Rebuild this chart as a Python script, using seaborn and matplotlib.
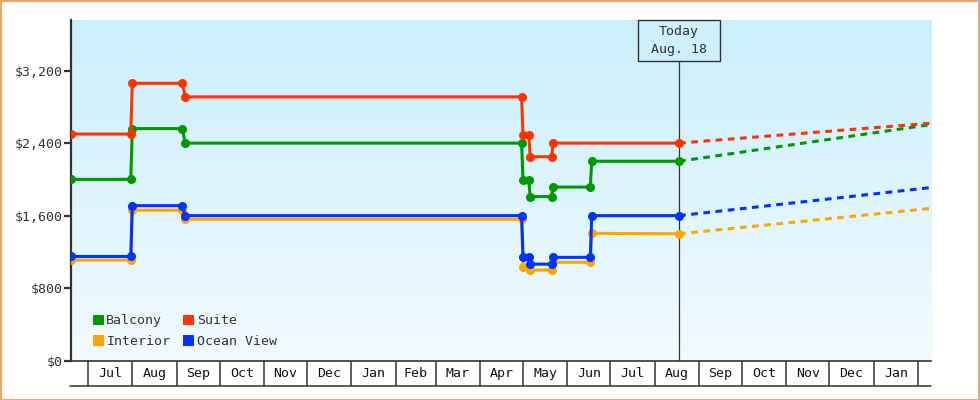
import numpy as np
import pandas as pd
import matplotlib
matplotlib.use("Agg")
import matplotlib.pyplot as plt
import matplotlib.dates as mdates
import matplotlib.transforms as mtransforms
from matplotlib.patches import Patch, Rectangle
from matplotlib.lines import Line2D
import seaborn as sns

# ---------------- data ----------------
suite_dates = ["2022-06-19", "2022-07-31", "2022-08-01", "2022-09-05", "2022-09-07",
               "2023-04-30", "2023-05-01", "2023-05-05", "2023-05-06", "2023-05-21",
               "2023-05-22", "2023-08-18"]
suite_prices = [2500, 2500, 3060, 3060, 2910, 2910, 2490, 2490, 2250, 2250, 2400, 2400]

other_dates = ["2022-06-19", "2022-07-31", "2022-08-01", "2022-09-05", "2022-09-07",
               "2023-04-30", "2023-05-01", "2023-05-05", "2023-05-06", "2023-05-21",
               "2023-05-22", "2023-06-17", "2023-06-18", "2023-08-18"]
balcony_prices = [2000, 2000, 2560, 2560, 2400, 2400, 1990, 1990, 1810, 1810, 1915, 1915, 2200, 2200]
ocean_prices = [1150, 1150, 1710, 1710, 1600, 1600, 1145, 1145, 1065, 1065, 1140, 1140, 1600, 1600]
interior_prices = [1110, 1110, 1660, 1660, 1560, 1560, 1030, 1030, 1000, 1000, 1085, 1085, 1405, 1400]

forecast_dates = ["2023-08-18", "2024-02-10"]
suite_forecast = [2400, 2620]
balcony_forecast = [2200, 2605]
ocean_forecast = [1600, 1910]
interior_forecast = [1400, 1680]

cabins = ["Balcony", "Interior", "Suite", "Ocean View"]
colors = {"Balcony": "#009900", "Interior": "#FFA500", "Suite": "#FF3300", "Ocean View": "#0033FF"}
month_labels = ["Jul", "Aug", "Sep", "Oct", "Nov", "Dec", "Jan", "Feb", "Mar", "Apr",
                "May", "Jun", "Jul", "Aug", "Sep", "Oct", "Nov", "Dec", "Jan"]
y_ticks = [0, 800, 1600, 2400, 3200]
today = "2023-08-18"
x_start, x_end = "2022-06-19", "2024-02-10"

# ---------------- frames ----------------
hist = pd.concat([
    pd.DataFrame({"date": pd.to_datetime(other_dates), "price": interior_prices, "cabin": "Interior"}),
    pd.DataFrame({"date": pd.to_datetime(other_dates), "price": balcony_prices, "cabin": "Balcony"}),
    pd.DataFrame({"date": pd.to_datetime(other_dates), "price": ocean_prices, "cabin": "Ocean View"}),
    pd.DataFrame({"date": pd.to_datetime(suite_dates), "price": suite_prices, "cabin": "Suite"}),
], ignore_index=True)
fc = pd.concat([
    pd.DataFrame({"date": pd.to_datetime(forecast_dates), "price": interior_forecast, "cabin": "Interior"}),
    pd.DataFrame({"date": pd.to_datetime(forecast_dates), "price": balcony_forecast, "cabin": "Balcony"}),
    pd.DataFrame({"date": pd.to_datetime(forecast_dates), "price": ocean_forecast, "cabin": "Ocean View"}),
    pd.DataFrame({"date": pd.to_datetime(forecast_dates), "price": suite_forecast, "cabin": "Suite"}),
], ignore_index=True)

# ---------------- figure ----------------
sns.set_style("white")
plt.rcParams["font.family"] = ["DejaVu Sans Mono", "DejaVu Sans"]
DARK = "#333333"

fig = plt.figure(figsize=(9.8, 4.0), dpi=100)
ax = fig.add_axes([70.7 / 980, 39.3 / 400, (931 - 70.7) / 980, (360.7 - 20) / 400])

# gradient background
grad = np.linspace(0, 1, 256).reshape(-1, 1)
top_c = np.array([202, 239, 252]) / 255.0
bot_c = np.array([242, 251, 255]) / 255.0
img = top_c[None, None, :] * (1 - grad[:, :, None]) + bot_c[None, None, :] * grad[:, :, None]
ax.imshow(img, extent=[0, 1, 0, 1], transform=ax.transAxes, aspect="auto", zorder=0)

sns.lineplot(data=hist, x="date", y="price", hue="cabin", palette=colors,
             hue_order=["Interior", "Balcony", "Ocean View", "Suite"],
             estimator=None, sort=False, marker="o", markersize=6.5, markeredgewidth=0,
             linewidth=2.2, legend=False, ax=ax, zorder=3)
sns.lineplot(data=fc, x="date", y="price", hue="cabin", palette=colors,
             hue_order=["Interior", "Balcony", "Ocean View", "Suite"],
             estimator=None, sort=False, linewidth=2.2, legend=False, ax=ax, zorder=3)
n_hist = 4
for ln in ax.get_lines()[n_hist:]:
    ln.set_dashes([2.2, 1.8])

ax.set_xlim(pd.Timestamp(x_start), pd.Timestamp(x_end))
ax.set_ylim(0, 3758)
ax.set_xlabel("")
ax.set_ylabel("")

# y axis
ax.set_yticks(y_ticks)
ax.set_yticklabels(["${:,}".format(v) for v in y_ticks])
ax.tick_params(axis="y", direction="out", length=5, width=1.6, color=DARK,
               labelsize=9.5, labelcolor=DARK, pad=1, left=True)

# x axis: month cells
bounds = pd.date_range("2022-07-01", "2024-02-01", freq="MS")
centers = [b + (b2 - b) / 2 for b, b2 in zip(bounds[:-1], bounds[1:])]
ax.set_xticks(mdates.date2num(bounds))
ax.set_xticklabels([""] * len(bounds))
ax.set_xticks(mdates.date2num(centers), minor=True)
ax.set_xticklabels(month_labels, minor=True)
ax.tick_params(axis="x", which="major", direction="out", length=18, width=1.1, color=DARK, bottom=True)
ax.tick_params(axis="x", which="minor", length=0, labelsize=9.5, labelcolor="#111111", pad=4.5, bottom=True)

for s in ["top", "right"]:
    ax.spines[s].set_visible(False)
ax.spines["left"].set_color(DARK)
ax.spines["left"].set_linewidth(1.6)
ax.spines["bottom"].set_color(DARK)
ax.spines["bottom"].set_linewidth(1.2)

# bottom rule of the month row
fig.add_artist(Line2D([70 / 980, 931 / 980], [1 - 385.5 / 400, 1 - 385.5 / 400],
                      color=DARK, linewidth=1.1, transform=fig.transFigure))

# today marker
ax.axvline(pd.Timestamp(today), color=DARK, linewidth=0.9, zorder=2)
trans = mtransforms.blended_transform_factory(ax.transData, ax.transAxes)
ax.text(mdates.date2num(pd.Timestamp(today)), 0.984, "Today\n Aug. 18 ", transform=trans,
        ha="center", va="top", fontsize=9.5, color=DARK, linespacing=1.45, zorder=5,
        multialignment="center",
        bbox=dict(boxstyle="square,pad=0.38", facecolor="#CEF0FC", edgecolor=DARK, linewidth=1.0))

# legend
handles = [Patch(facecolor=colors[c], edgecolor="none") for c in cabins]
ax.legend(handles, cabins, ncol=2, loc="lower left", bbox_to_anchor=(0.026, 0.037),
          frameon=False, fontsize=9.5, handlelength=0.8, handleheight=0.8,
          handletextpad=0.2, columnspacing=1.0, labelspacing=0.6, borderpad=0,
          borderaxespad=0, labelcolor=DARK)

# orange figure border
fig.add_artist(Rectangle((0.001, 0.001), 0.998, 0.997, transform=fig.transFigure,
                         fill=False, edgecolor="#E8AA6A", linewidth=1.5))

fig.savefig("out.png", dpi=100, facecolor="white")
